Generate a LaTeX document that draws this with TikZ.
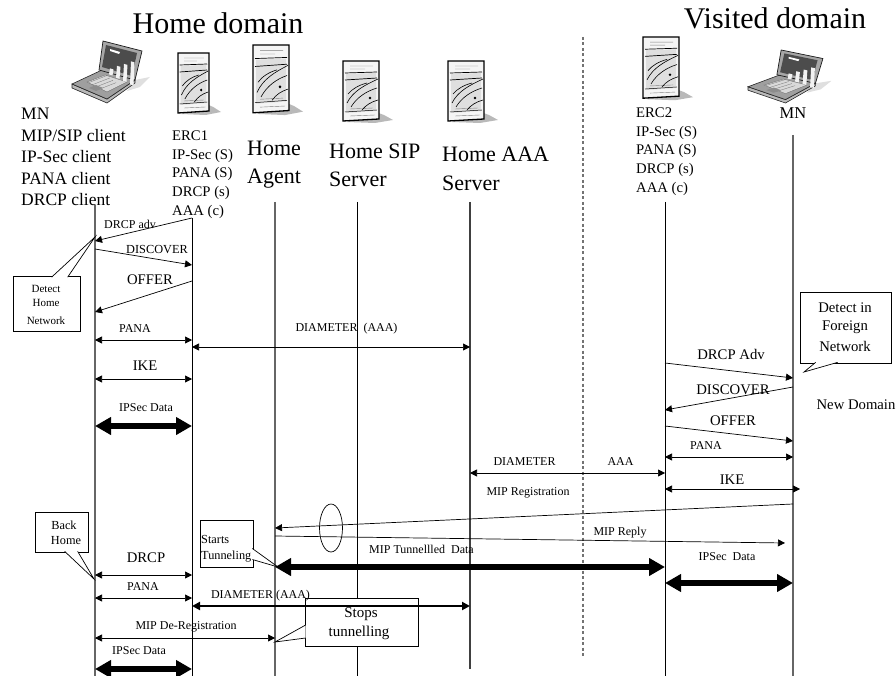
\documentclass[tikz,border=0pt]{standalone}
\usepackage{fontspec}
\setmainfont{Liberation Serif}
\usepackage{tikz}
\usetikzlibrary{shapes.geometric, arrows.meta, calc}

\begin{document}
\begin{tikzpicture}[
    x=1pt, y=-1pt,
    txt/.style={inner sep=0pt, font=\fontsize{#1}{#1}\selectfont},
    stack/.style 2 args={inner sep=0pt, align=left, anchor=west, font=\fontsize{#1}{#2}\selectfont},
    lifeline/.style={draw=black, line width=0.8pt},
    lifegrey/.style={draw=black!60, line width=1.1pt},
    msg/.style={-{Triangle[length=7pt,width=7pt]}, line width=0.7pt},
    dmsg/.style={{Triangle[length=7pt,width=7pt]}-{Triangle[length=7pt,width=7pt]}, line width=0.7pt},
    mid/.style={{Triangle[length=8pt,width=8pt]}-{Triangle[length=8pt,width=8pt]}, line width=2.2pt},
    fat/.style={{Triangle[length=16pt,width=17pt]}-{Triangle[length=16pt,width=17pt]}, line width=5.5pt},
    callbox/.style={draw=black, fill=white, line width=0.7pt, inner sep=0pt, align=center},
    pointer/.style={draw=black, fill=white, line width=0.7pt, line join=miter},
    laptop/.pic={
        \fill[gray!25] (63,39) -- (78,36) -- (68,46) -- (55,50) -- cycle;
        \filldraw[fill=gray!55, draw=black!85, line width=0.6pt] (0,43) -- (35,58) -- (63,39) -- (63,42) -- (35,62) -- (0,47) -- cycle;
        \filldraw[fill=gray!75, draw=black!85, line width=0.6pt] (0,43) -- (30,29) -- (63,39) -- (35,58) -- cycle;
        \filldraw[fill=gray!30, draw=black!60, line width=0.3pt] (15,41) -- (33,34) -- (55,41) -- (35,51) -- cycle;
        \foreach \k in {0,1,2,3} \draw[black!55, line width=0.3pt] ({17+\k*3},{41.5+\k*2.4}) -- ({35+\k*3},{34.5+\k*2.4});
        \fill[gray!90] (17,47) -- (24,44) -- (31,47) -- (24,50) -- cycle;
        \filldraw[fill=gray!70, draw=black!90, line width=0.7pt] (31,0) -- (70,10) -- (63,39) -- (27,29) -- cycle;
        \fill[black!70] (34,4) -- (65,12) -- (60,35) -- (30,26) -- cycle;
        \fill[white] (38,8) -- (48,11) -- (47,13) -- (38,10) -- cycle;
        \foreach \b/\h in {38/6, 45/12, 52/17, 59/23} \fill[gray!10] (\b,{31-\h*0.6+0.15*(\b-38)}) -- ++(3.5,1) -- ++(-1,\h) -- ++(-3.5,-1) -- cycle;
    },
    serverbox/.pic={
        \fill[gray!55] (30,50) -- (41,54) -- (50,59) -- (32,62) -- (4,61) -- cycle;
        \filldraw[fill=gray!8, draw=black, line width=1.3pt] (0,0) -- (36,0) -- (36,58) -- (0,60) -- cycle;
        \fill[gray!25] (3,13) -- (33,12) -- (33,50) -- (3,52) -- cycle;
        \draw[black!50, line width=0.4pt] (7,5) -- (30,5) (7,8) -- (22,8) (7,48) -- (30,47) (7,55) -- (32,54);
        \draw[black, line width=0.7pt] (2,12) -- (34,11) (2,19) -- (34,17);
        \draw[black, line width=0.5pt] (2,51) -- (34,49);
        \draw[black, line width=0.6pt] (4,42) .. controls (10,30) and (22,24) .. (35,18)
            (8,46) .. controls (14,36) and (24,30) .. (34,27)
            (5,33) .. controls (9,28) and (16,24) .. (24,22)
            (19,49) .. controls (23,44) and (28,41) .. (35,39);
        \fill[black] (27,37) circle (1.4pt);
    }
]
    \useasboundingbox (0,0) rectangle (896,676);

    % Rows of the message chart
    \foreach \r in {218,241,249,265,281,312,340,347,363,378,379,387,410,426,441,457,473,489,504,528,536,543,567,575,583,598,606,638,669,676}
        \coordinate (r\r) at (0,\r);

    % Titles
    \node[txt=30] (homeT) at (218,23) {Home domain};
    \node[txt=30] (visitT) at (775,18) {Visited domain};

    % Icons
    \pic at (72,41) {laptop};
    \pic[xscale=1.07, yscale=0.855] at (748,50) {laptop};
    \pic[xscale=0.86] at (178,53) {serverbox};
    \pic[yscale=1.13] at (253,45) {serverbox};
    \pic at (343,61) {serverbox};
    \pic at (448,61) {serverbox};
    \pic[yscale=1.02] at (643,37) {serverbox};

    % Entities
    \node[stack={17.5}{21.5}] (mnLbl) at (21,157) {MN\\MIP/SIP client\\IP-Sec client\\PANA client\\DRCP client};
    \node[stack={14.7}{18.7}] (ercOne) at (172,174.5) {ERC1\\IP-Sec (S)\\PANA (S)\\DRCP (s)\\AAA (c)};
    \node[stack={22}{28}] (haLbl) at (247,165) {Home\\Agent};
    \node[stack={22}{28}] (sipLbl) at (329,165) {Home SIP\\Server};
    \node[stack={22}{29}] (aaaLbl) at (442,168.5) {Home AAA\\Server};
    \node[stack={14.7}{18.7}] (ercTwo) at (636,151.5) {ERC2\\IP-Sec (S)\\PANA (S)\\DRCP (s)\\AAA (c)};
    \node[txt=16.5] (mnTwoLbl) at (793,113) {MN};

    % Lifelines
    \coordinate (mn) at (95,205);
    \coordinate (erc) at (192,218);
    \coordinate (ha) at (275,202);
    \coordinate (sip) at (357,202);
    \coordinate (aaa) at (470,202);
    \coordinate (ercB) at (665,202);
    \coordinate (mnB) at (793,135);
    \coordinate (aaaEnd) at (470,669);
    \coordinate (domTop) at (583,37);
    \coordinate (domEnd) at (583,657);

    \draw[lifegrey] (mn) -- (mn |- r676);
    \draw[lifeline] (erc) -- (erc |- r676);
    \draw[lifegrey] (ha) -- (ha |- r676);
    \draw[lifeline] (sip) -- (sip |- r676);
    \draw[lifegrey, draw=black!75] (aaa) -- (aaaEnd);
    \draw[lifeline] (ercB) -- (ercB |- r676);
    \draw[lifegrey] (mnB) -- (mnB |- r676);
    \draw[draw=black!55, line width=1.2pt, dash pattern=on 3pt off 2.5pt] (domTop) -- (domEnd);

    % Callouts
    \node[callbox, minimum width=67pt, minimum height=55pt] (detectHome) at (46.5,304) {};
    \node[txt=11] (dh1) at (46,289) {Detect};
    \node[txt=11] (dh2) at (46,303) {Home};
    \node[txt=11] (dh3) at (46,321) {Network};
    \coordinate (detectTip) at (95,237);
    \filldraw[pointer] ([xshift=39pt,yshift=-1pt]detectHome.north west) -- (detectTip) -- ([xshift=55pt,yshift=-1pt]detectHome.north west);

    \node[callbox, minimum width=53pt, minimum height=40pt] (backHome) at (61.5,532) {};
    \node[txt=12.3] (bh1) at (64,525) {Back};
    \node[txt=12.3] (bh2) at (66,541) {Home};
    \coordinate (backTip) at (94,579);
    \filldraw[pointer] ([xshift=30pt,yshift=1pt]backHome.south west) -- (backTip) -- ([xshift=43pt,yshift=1pt]backHome.south west);

    \node[callbox, minimum width=53pt, minimum height=47pt] (startsBox) at (226.5,543.5) {};
    \node[stack={12.3}{16}] (startsLbl) at (201,549) {Starts\\Tunneling};
    \coordinate (startsTip) at (278,567);
    \filldraw[pointer] ([xshift=-1pt,yshift=-5pt]startsBox.east) -- (startsTip) -- ([xshift=-1pt,yshift=-16pt]startsBox.east);

    \node[callbox, minimum width=113pt, minimum height=48pt] (stopsBox) at (361.5,622) {};
    \node[txt=15] (st1) at (361,614) {Stops};
    \node[txt=15] (st2) at (359,633) {tunnelling};
    \coordinate (stopsTip) at (275,642);
    \filldraw[pointer] ([xshift=1pt,yshift=-3pt]stopsBox.west) -- (stopsTip) -- ([xshift=1pt,yshift=-16pt]stopsBox.west);

    \node[callbox, minimum width=91pt, minimum height=71pt] (detectFor) at (845.5,327.5) {};
    \node[txt=14.7] (df1) at (845,308) {Detect in};
    \node[txt=14.7] (df2) at (845,327) {Foreign};
    \node[txt=14.7] (df3) at (845,346) {Network};
    \coordinate (forTip) at (804,372);
    \filldraw[pointer] ([xshift=16pt,yshift=1pt]detectFor.south west) -- (forTip) -- ([xshift=38pt,yshift=1pt]detectFor.south west);
    \node[txt=14.7] (newDom) at (856,405) {New Domain};

    % Home domain exchange
    \draw[msg] (erc |- r218) -- (mn |- r241);
    \node[txt=12] (l1) at (130,224) {DRCP adv};
    \draw[msg] (mn |- r249) -- (erc |- r265);
    \node[txt=12.3] (l2) at (157,250) {DISCOVER};
    \draw[msg] (erc |- r281) -- (mn |- r312);
    \node[txt=14.7] (l3) at (150,280) {OFFER};
    \draw[dmsg] (mn |- r340) -- (erc |- r340);
    \node[txt=12] (l4) at (135,329) {PANA};
    \draw[dmsg] (erc |- r347) -- (aaa |- r347);
    \node[txt=12] (l5) at (346.5,329) {DIAMETER\hspace{6pt}(AAA)};
    \draw[dmsg] (mn |- r379) -- (erc |- r379);
    \node[txt=14.7] (l6) at (145,366) {IKE};
    \draw[fat] (mn |- r426) -- (erc |- r426);
    \node[txt=12] (l7) at (146,408) {IPSec Data};

    % Visited domain exchange
    \draw[msg] (ercB |- r363) -- (mnB |- r378);
    \node[txt=14.7] (l8) at (731,354) {DRCP Adv};
    \draw[msg] (mnB |- r387) -- (ercB |- r410);
    \node[txt=14.7] (l9) at (733,390) {DISCOVER};
    \draw[msg] (ercB |- r426) -- (mnB |- r441);
    \node[txt=14.7] (l10) at (733,421) {OFFER};
    \draw[dmsg] (ercB |- r457) -- (mnB |- r457);
    \node[txt=12] (l11) at (706,446) {PANA};
    \draw[dmsg] (aaa |- r473) -- (ercB |- r473);
    \node[txt=12] (l12) at (563.5,462) {DIAMETER\hspace{52pt}AAA};
    \coordinate (ikeEnd) at (800,489);
    \draw[dmsg] (ercB |- r489) -- (ikeEnd);
    \node[txt=14.7] (l13) at (732,480) {IKE};

    % Going home
    \draw[msg] (mnB |- r504) -- (ha |- r528);
    \node[txt=12] (l14) at (528,493) {MIP Registration};
    \coordinate (replyEnd) at (785,543);
    \draw[msg] (ha |- r536) -- (replyEnd);
    \node[txt=12] (l15) at (620,533) {MIP Reply};
    \node[draw=black, line width=0.7pt, ellipse, minimum width=23pt, minimum height=48pt, inner sep=0pt] (cutMark) at (331,528) {};
    \draw[fat] (ha |- r567) -- (ercB |- r567);
    \node[txt=12] (l16) at (421.5,549) {MIP Tunnellled\hspace{3pt} Data};
    \draw[fat] (ercB |- r583) -- (mnB |- r583);
    \node[txt=12] (l17) at (727,557) {IPSec\hspace{3pt} Data};
    \draw[dmsg] (mn |- r575) -- (erc |- r575);
    \node[txt=14.7] (l18) at (146,558) {DRCP};
    \draw[dmsg] (mn |- r598) -- (erc |- r598);
    \node[txt=12] (l19) at (143,587) {PANA};
    \draw[mid] (erc |- r606) -- (aaa |- r606);
    \node[txt=12] (l20) at (260.5,596) {DIAMETER (AAA)};
    \draw[dmsg] (mn |- r638) -- (ha |- r638);
    \node[txt=12] (l21) at (186,627) {MIP De-Registration};
    \draw[fat] (mn |- r669) -- (erc |- r669);
    \node[txt=12] (l22) at (139,651) {IPSec Data};
\end{tikzpicture}
\end{document}
